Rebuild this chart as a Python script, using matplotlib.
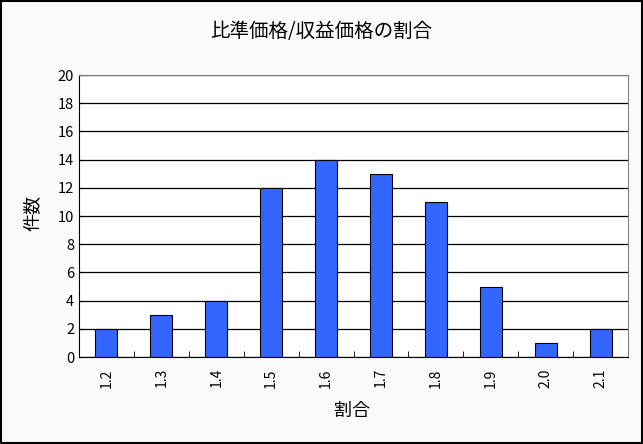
import numpy as np
import matplotlib
matplotlib.use("Agg")
import matplotlib.pyplot as plt

plt.rcParams['font.family'] = ['Noto Sans CJK JP', 'DejaVu Sans']

labels = ['1.2', '1.3', '1.4', '1.5', '1.6', '1.7', '1.8', '1.9', '2.0', '2.1']
counts = [2, 3, 4, 12, 14, 13, 11, 5, 1, 2]

fig = plt.figure(figsize=(6.43, 4.44), dpi=100)
fig.patch.set_facecolor('#fafafa')
# outer frame
fig.patches.append(plt.Rectangle((0.001, 0.002), 0.997, 0.996, transform=fig.transFigure,
                                 fill=False, edgecolor='black', linewidth=1.5))

ax = fig.add_axes([0.1229, 0.1959, 0.8538, 0.635])
ax.set_facecolor('white')
x = np.arange(len(labels))
ax.bar(x, counts, width=0.4, color='#3366ff', edgecolor='black', linewidth=0.8, zorder=3)

ax.set_xlim(-0.5, len(labels) - 0.5)
ax.set_ylim(0, 20)
ax.set_yticks(range(0, 21, 2))
ax.yaxis.grid(True, color='black', linewidth=0.9, zorder=0)
ax.set_xticks(x)
ax.set_xticklabels(labels, rotation=90, fontsize=10)
ax.tick_params(axis='x', length=0, pad=8)
ax.set_xticks(np.arange(-0.5, len(labels) + 0.5, 1), minor=True)
ax.tick_params(axis='x', which='minor', direction='in', length=4)
ax.tick_params(axis='y', direction='in', length=3, labelsize=10.5)

for s in ['top', 'right']:
    ax.spines[s].set_color('#808080')
for s in ['left', 'bottom']:
    ax.spines[s].set_color('black')

fig.text(0.5, 0.928, '比準価格/収益価格の割合', ha='center', va='center', fontsize=14)
fig.text(0.052, 0.52, '件数', ha='center', va='center', rotation=90, fontsize=13)
fig.text(0.548, 0.075, '割合', ha='center', va='center', fontsize=13)

fig.savefig('out.png', dpi=100, facecolor=fig.get_facecolor())
